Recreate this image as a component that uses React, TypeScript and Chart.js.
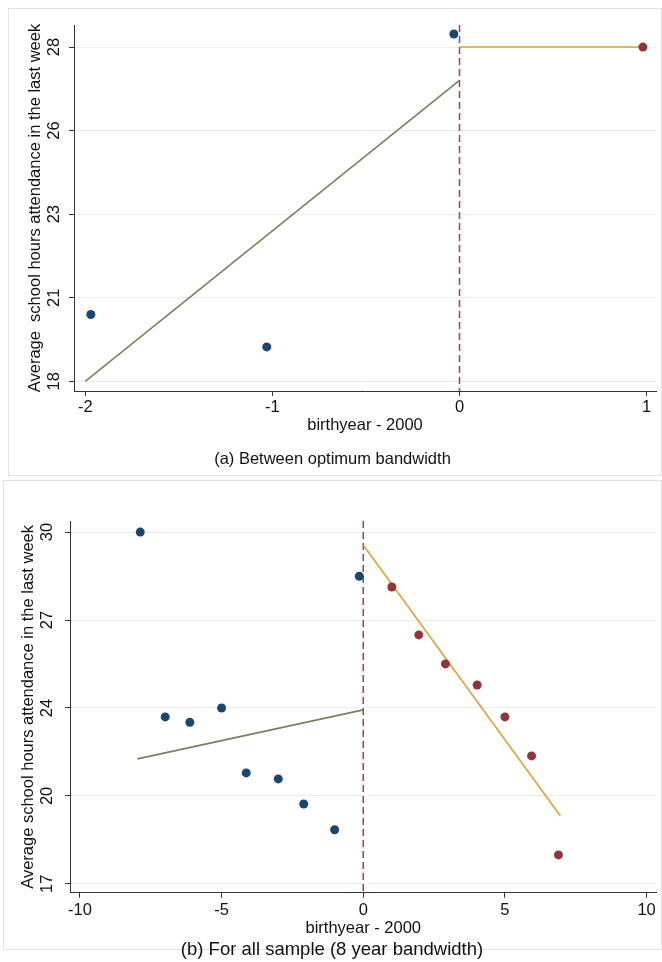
import React, { useEffect, useRef } from "react";
import { Chart, registerables } from "chart.js";
Chart.register(...registerables);

// ---------- Panel (a): between optimum bandwidth ----------
const aLeftX = [-1.97, -1.03, -0.03];
const aLeftY = [20.0, 19.03, 28.39];
const aRightX = [0.98];
const aRightY = [28.0];
const aFitLeftX = [-2, 0];
const aFitLeftY = [18.0, 27.0];
const aFitRightX = [0, 1];
const aFitRightY = [28.0, 28.0];
const aXTicks = [-2, -1, 0, 1];
const aYTicks = [18, 20.5, 23, 25.5, 28];
const aYTickLabels = ["18", "21", "23", "26", "28"];

// ---------- Panel (b): all sample (8 year bandwidth) ----------
const bLeftX = [-7.87, -6.99, -6.12, -5.0, -4.13, -3.0, -2.1, -1.01, -0.14];
const bLeftY = [30.0, 23.17, 22.97, 23.5, 21.1, 20.88, 19.95, 19.0, 28.37];
const bRightX = [1.01, 1.96, 2.9, 4.02, 5.0, 5.94, 6.89];
const bRightY = [27.97, 26.2, 25.13, 24.35, 23.17, 21.73, 18.07];
const bFitLeftX = [-7.97, 0];
const bFitLeftY = [21.62, 23.43];
const bFitRightX = [0, 6.96];
const bFitRightY = [29.52, 19.51];
const bXTicks = [-10, -5, 0, 5, 10];
const bYTicks = [17, 20.25, 23.5, 26.75, 30];
const bYTickLabels = ["17", "20", "24", "27", "30"];

const cutoff = 0;

const FONT = "'Liberation Sans', Arial, Helvetica, sans-serif";
const TXT = "#111111";
const AXIS = "#333333";
const GRID = "#ececec";
const BLUE = "#1a476f";
const RED = "#90353b";
const GREEN = "#75825c";
const ORANGE = "#dca238";
const DASH = "#9e3f5c";

const zip = (xs: number[], ys: number[]) => xs.map((x, i) => ({ x, y: ys[i] }));

const cutoffPlugin = {
  id: "cutoffLine",
  beforeDatasetsDraw(chart: any) {
    const { ctx, chartArea, scales } = chart;
    const px = scales.x.getPixelForValue(cutoff);
    ctx.save();
    ctx.strokeStyle = DASH;
    ctx.lineWidth = 1.5;
    ctx.setLineDash([7, 4]);
    ctx.beginPath();
    ctx.moveTo(px, chartArea.top);
    ctx.lineTo(px, chartArea.bottom);
    ctx.stroke();
    ctx.restore();
  },
};

type PanelCfg = {
  lx: number[]; ly: number[]; rx: number[]; ry: number[];
  flx: number[]; fly: number[]; frx: number[]; fry: number[];
  xTicks: number[]; yTicks: number[]; yLabels: string[];
  xMin: number; xMax: number; yMin: number; yMax: number;
  padding: { top: number; left: number; right: number; bottom: number };
  xHeight: number; xTickPad: number; xTitlePadB: number;
  yWidth: number; yTickPad: number; yTitlePadT: number;
  yTitle: string; caption: string; capSize: number;
};

function makeChart(canvas: HTMLCanvasElement, p: PanelCfg) {
  const font = { family: FONT, size: 16.5, weight: "normal" as const };
  return new Chart(canvas, {
    type: "scatter",
    data: {
      datasets: [
        { data: zip(p.lx, p.ly), backgroundColor: BLUE, borderColor: BLUE, pointRadius: 4.5, borderWidth: 0 },
        { data: zip(p.rx, p.ry), backgroundColor: RED, borderColor: RED, pointRadius: 4.5, borderWidth: 0 },
        { data: zip(p.flx, p.fly), showLine: true, borderColor: GREEN, borderWidth: 1.6, pointRadius: 0 },
        { data: zip(p.frx, p.fry), showLine: true, borderColor: ORANGE, borderWidth: 1.6, pointRadius: 0 },
      ] as any,
    },
    options: {
      responsive: false,
      animation: false,
      devicePixelRatio: 1,
      layout: { padding: p.padding },
      plugins: {
        legend: { display: false },
        tooltip: { enabled: false },
        title: {
          display: true,
          position: "bottom",
          text: p.caption,
          color: TXT,
          font: { family: FONT, size: p.capSize, weight: "normal" },
          padding: { top: 0, bottom: 0 },
        },
      },
      scales: {
        x: {
          type: "linear",
          min: p.xMin,
          max: p.xMax,
          afterBuildTicks: (s: any) => { s.ticks = p.xTicks.map((v) => ({ value: v })); },
          afterFit: (s: any) => { s.height = p.xHeight; s.paddingLeft = 0; s.paddingRight = 0; },
          ticks: { font, color: TXT, padding: p.xTickPad, callback: (v: any) => String(v), maxRotation: 0, minRotation: 0 },
          grid: { display: true, drawOnChartArea: false, drawTicks: true, tickLength: 5, tickColor: AXIS, color: AXIS },
          border: { display: true, color: AXIS, width: 1 },
          title: { display: true, text: "birthyear - 2000", font, color: TXT, padding: { top: 0, bottom: p.xTitlePadB } },
        },
        y: {
          type: "linear",
          min: p.yMin,
          max: p.yMax,
          afterBuildTicks: (s: any) => { s.ticks = p.yTicks.map((v) => ({ value: v })); },
          afterFit: (s: any) => { s.width = p.yWidth; s.paddingTop = 0; s.paddingBottom = 0; },
          ticks: {
            font, color: TXT, padding: p.yTickPad, minRotation: 90, maxRotation: 90, crossAlign: "center",
            callback: (_v: any, i: number) => p.yLabels[i],
          },
          grid: { display: true, drawOnChartArea: true, drawTicks: true, tickLength: 5, tickColor: AXIS, color: GRID, lineWidth: 1 },
          border: { display: true, color: AXIS, width: 1 },
          title: { display: true, text: p.yTitle, font, color: TXT, padding: { top: p.yTitlePadT, bottom: 0 } },
        },
      },
    } as any,
    plugins: [cutoffPlugin],
  });
}

const panelA: PanelCfg = {
  lx: aLeftX, ly: aLeftY, rx: aRightX, ry: aRightY,
  flx: aFitLeftX, fly: aFitLeftY, frx: aFitRightX, fry: aFitRightY,
  xTicks: aXTicks, yTicks: aYTicks, yLabels: aYTickLabels,
  xMin: -2.06, xMax: 1.05, yMin: 17.71, yMax: 28.66,
  padding: { top: 16, left: 0, right: 5, bottom: 6.1 },
  xHeight: 58.1, xTickPad: 2, xTitlePadB: 14.2,
  yWidth: 65, yTickPad: 5.6, yTitlePadT: 16.1,
  yTitle: "Average  school hours attendance in the last week",
  caption: "(a) Between optimum bandwidth", capSize: 16.5,
};

const panelB: PanelCfg = {
  lx: bLeftX, ly: bLeftY, rx: bRightX, ry: bRightY,
  flx: bFitLeftX, fly: bFitLeftY, frx: bFitRightX, fry: bFitRightY,
  xTicks: bXTicks, yTicks: bYTicks, yLabels: bYTickLabels,
  xMin: -10.35, xMax: 10.35, yMin: 16.67, yMax: 30.41,
  padding: { top: 40, left: 0, right: 1, bottom: 0 },
  xHeight: 46, xTickPad: 3, xTitlePadB: 0,
  yWidth: 66, yTickPad: 8.3, yTitlePadT: 14.6,
  yTitle: "Average school hours attendance in the last week",
  caption: "(b) For all sample (8 year bandwidth)", capSize: 18.5,
};

function Panel({ cfg, left, top, width, height }: { cfg: PanelCfg; left: number; top: number; width: number; height: number }) {
  const ref = useRef<HTMLCanvasElement>(null);
  useEffect(() => {
    if (!ref.current) return;
    const chart = makeChart(ref.current, cfg);
    return () => chart.destroy();
  }, [cfg]);
  return (
    <canvas
      ref={ref}
      width={width}
      height={height}
      style={{ position: "absolute", left, top, width, height, display: "block" }}
    />
  );
}

export default function App() {
  return (
    <div style={{ position: "absolute", left: 0, top: 0, width: 662, height: 962, overflow: "hidden", background: "#ffffff" }}>
      <div style={{ position: "absolute", left: 8, top: 8, width: 654, height: 468, border: "1px solid #e2e2e2", boxSizing: "border-box" }} />
      <div style={{ position: "absolute", left: 3, top: 480, width: 659, height: 470, border: "1px solid #e2e2e2", boxSizing: "border-box" }} />
      <Panel cfg={panelA} left={9} top={9} width={652} height={466} />
      <Panel cfg={panelB} left={4} top={481} width={657} height={480} />
    </div>
  );
}
